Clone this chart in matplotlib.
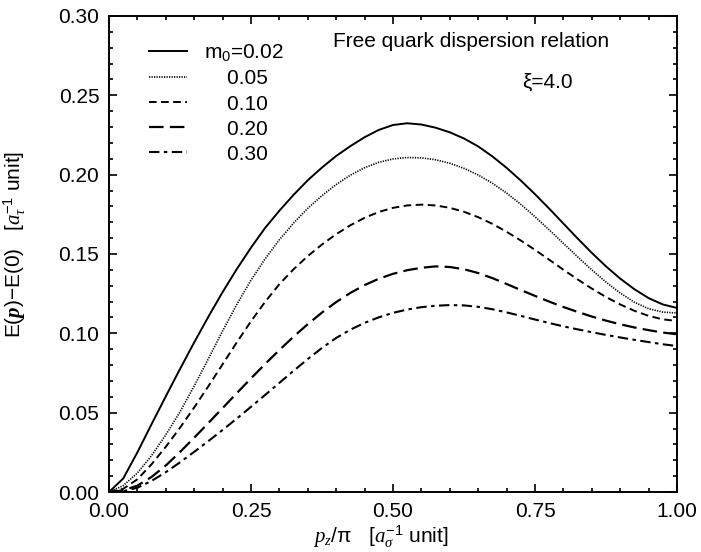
import numpy as np
import matplotlib.pyplot as plt
from matplotlib.ticker import MultipleLocator, FormatStrFormatter

plt.rcParams['font.family'] = ['Liberation Sans', 'DejaVu Sans']
plt.rcParams['mathtext.fontset'] = 'custom'
plt.rcParams['mathtext.rm'] = 'Liberation Sans'
plt.rcParams['mathtext.it'] = 'Liberation Serif:italic'
plt.rcParams['mathtext.bf'] = 'Liberation Serif:italic:bold'
plt.rcParams['lines.scale_dashes'] = False

# momentum grid p_z/pi
pz = np.linspace(0.0, 1.0, 41)

# E(p)-E(0) for each bare mass
e_002 = [0.0000, 0.0085, 0.0250, 0.0428, 0.0603, 0.0775, 0.0943, 0.1105, 0.1260, 0.1405,
         0.1540, 0.1665, 0.1773, 0.1873, 0.1965, 0.2045, 0.2118, 0.2180, 0.2236, 0.2282,
         0.2313, 0.2324, 0.2316, 0.2296, 0.2267, 0.2228, 0.2178, 0.2115, 0.2043, 0.1963,
         0.1877, 0.1786, 0.1692, 0.1598, 0.1507, 0.1422, 0.1345, 0.1278, 0.1222, 0.1182,
         0.1160]
e_005 = [0.0000, 0.0040, 0.0120, 0.0230, 0.0360, 0.0505, 0.0668, 0.0840, 0.1015, 0.1182,
         0.1335, 0.1470, 0.1590, 0.1695, 0.1788, 0.1868, 0.1938, 0.1997, 0.2044, 0.2078,
         0.2099, 0.2108, 0.2106, 0.2094, 0.2072, 0.2040, 0.1998, 0.1946, 0.1884, 0.1813,
         0.1735, 0.1652, 0.1567, 0.1482, 0.1400, 0.1323, 0.1254, 0.1196, 0.1155, 0.1134,
         0.1128]
e_010 = [0.0000, 0.0020, 0.0080, 0.0175, 0.0285, 0.0405, 0.0533, 0.0667, 0.0805, 0.0943,
         0.1076, 0.1199, 0.1310, 0.1404, 0.1487, 0.1560, 0.1625, 0.1681, 0.1728, 0.1765,
         0.1791, 0.1806, 0.1811, 0.1806, 0.1791, 0.1766, 0.1732, 0.1690, 0.1640, 0.1585,
         0.1526, 0.1464, 0.1401, 0.1340, 0.1282, 0.1229, 0.1182, 0.1142, 0.1110, 0.1088,
         0.1078]
e_020 = [0.0000, 0.0010, 0.0040, 0.0095, 0.0167, 0.0252, 0.0342, 0.0435, 0.0529, 0.0623,
         0.0716, 0.0807, 0.0895, 0.0979, 0.1058, 0.1131, 0.1197, 0.1255, 0.1304, 0.1344,
         0.1375, 0.1398, 0.1413, 0.1422, 0.1418, 0.1404, 0.1380, 0.1348, 0.1311, 0.1273,
         0.1236, 0.1200, 0.1166, 0.1135, 0.1106, 0.1080, 0.1057, 0.1037, 0.1020, 0.1005,
         0.0994]
e_030 = [0.0000, 0.0005, 0.0027, 0.0070, 0.0125, 0.0187, 0.0253, 0.0321, 0.0391, 0.0463,
         0.0537, 0.0612, 0.0688, 0.0764, 0.0838, 0.0908, 0.0971, 0.1023, 0.1066, 0.1101,
         0.1129, 0.1150, 0.1165, 0.1174, 0.1178, 0.1176, 0.1167, 0.1152, 0.1132, 0.1110,
         0.1087, 0.1065, 0.1044, 0.1025, 0.1007, 0.0990, 0.0974, 0.0959, 0.0945, 0.0931,
         0.0920]

labels = ['m$_0$=0.02', '    0.05', '    0.10', '    0.20', '    0.30']

fig = plt.figure(figsize=(7.01, 5.52), dpi=100)
ax = fig.add_axes([109 / 701, 60 / 552, 568 / 701, 476 / 552])

ax.plot(pz, e_002, color='black', lw=1.4, label=labels[0])
ax.plot(pz, e_005, color='black', lw=1.2, ls=(0, (0.9, 0.9)), label=labels[1])
ax.plot(pz, e_010, color='black', lw=1.4, ls=(0, (5.5, 3.2)), label=labels[2])
ax.plot(pz, e_020, color='black', lw=1.6, ls=(0, (10.5, 4.5)), label=labels[3])
ax.plot(pz, e_030, color='black', lw=1.5, ls=(0, (7.5, 3.2, 2.5, 3.2)), label=labels[4])

ax.set_xlim(0, 1)
ax.set_ylim(0, 0.30)
ax.xaxis.set_major_locator(MultipleLocator(0.25))
ax.xaxis.set_minor_locator(MultipleLocator(0.05))
ax.yaxis.set_major_locator(MultipleLocator(0.05))
ax.yaxis.set_minor_locator(MultipleLocator(0.01))
ax.xaxis.set_major_formatter(FormatStrFormatter('%.2f'))
ax.yaxis.set_major_formatter(FormatStrFormatter('%.2f'))
ax.tick_params(which='both', direction='in', top=True, right=True, width=1.2, labelsize=15, pad=7)
ax.tick_params(which='major', length=6)
ax.tick_params(which='minor', length=3)
for s in ax.spines.values():
    s.set_linewidth(1.4)

ax.set_xlabel(r'$p_z$/π   [$a_\sigma^{-1}$ unit]', fontsize=15)
ax.xaxis.set_label_coords(0.478, -0.066)
ax.set_ylabel(r'E($\mathbf{p}$)−E(0)   [$a_\tau^{-1}$ unit]', fontsize=15)
ax.yaxis.set_label_coords(-0.142, 0.52)

ax.text(0.394, 0.946, 'Free quark dispersion relation', transform=ax.transAxes,
        fontsize=15, va='center', ha='left')
ax.text(0.7265, 0.862, 'ξ=4.0', transform=ax.transAxes, fontsize=15, va='center', ha='left')

ax.legend(loc='upper left', bbox_to_anchor=(0.056, 0.962), frameon=False, fontsize=15,
          handlelength=1.8, handletextpad=0.85, labelspacing=0.29, borderaxespad=0)

fig.savefig('out.png', dpi=100)
